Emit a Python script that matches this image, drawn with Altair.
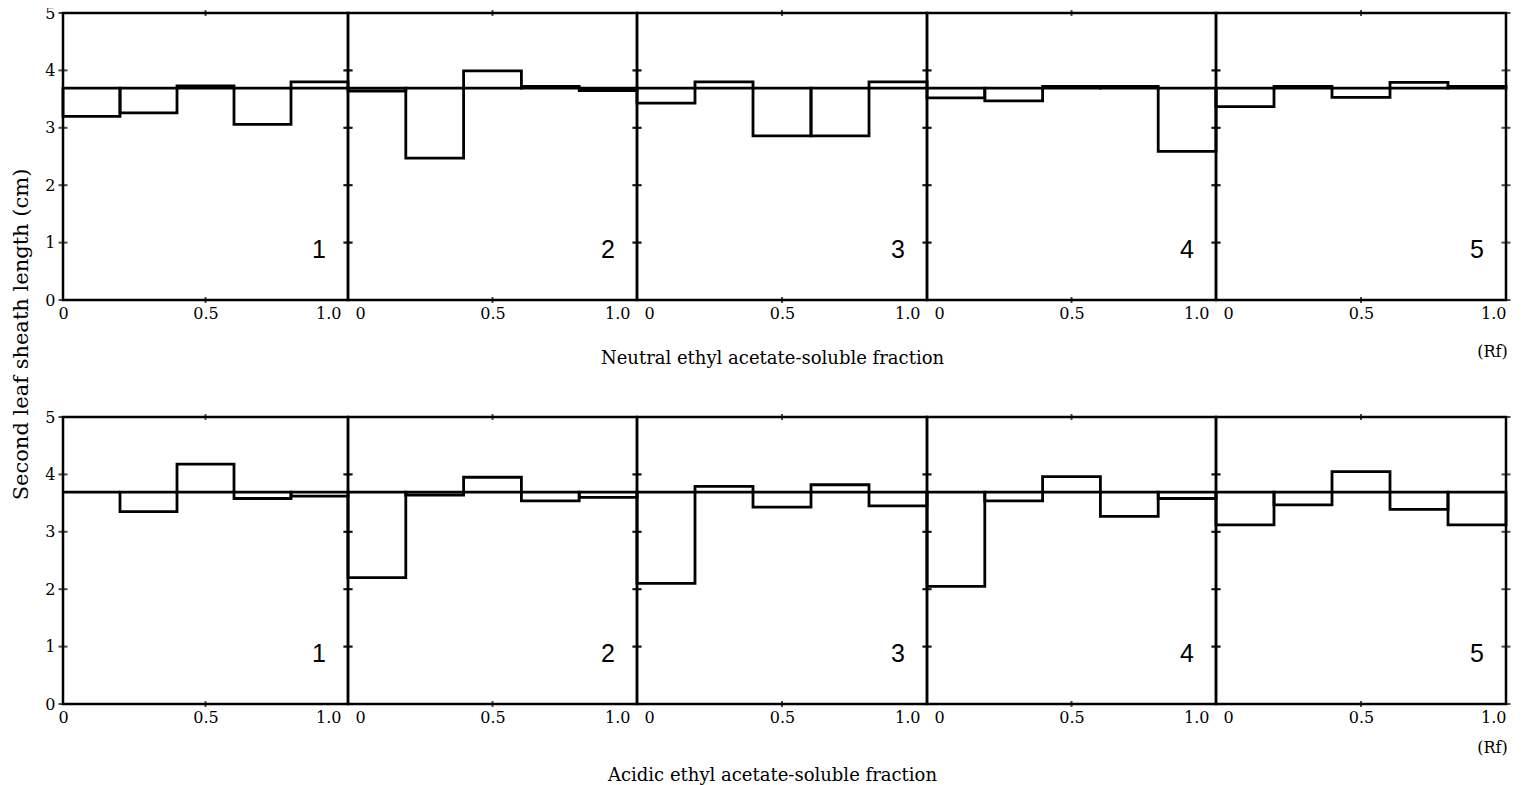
import altair as alt
import pandas as pd

# ---------------- data ----------------
rf_edges = [0.0, 0.2, 0.4, 0.6, 0.8, 1.0]
control = 3.69
panel_names = ["1", "2", "3", "4", "5"]
neutral = [
    [3.20, 3.26, 3.73, 3.06, 3.80],
    [3.64, 2.47, 3.99, 3.72, 3.65],
    [3.43, 3.80, 2.86, 2.86, 3.80],
    [3.52, 3.47, 3.72, 3.72, 2.59],
    [3.37, 3.72, 3.53, 3.79, 3.72],
]
acidic = [
    [3.69, 3.35, 4.18, 3.58, 3.62],
    [2.20, 3.64, 3.95, 3.54, 3.60],
    [2.10, 3.79, 3.43, 3.82, 3.45],
    [2.05, 3.54, 3.96, 3.27, 3.58],
    [3.12, 3.47, 4.05, 3.39, 3.12],
]
ytick_vals = [0, 1, 2, 3, 4, 5]
ytick_labels = ["0", "1", "2", "3", "4", "5"]
xtick_vals = [0, 0.5, 1.0]
xtick_labels = ["0", "0.5", "1.0"]
mid_ticks = [0.5]
row_titles = ["Neutral ethyl acetate-soluble fraction", "Acidic ethyl acetate-soluble fraction"]
unit_label = "(Rf)"
y_title = "Second leaf sheath length (cm)"

# ---------------- styling ----------------
SERIF = "DejaVu Serif"
SANS = "Liberation Sans"
widths = [285, 289, 290, 289, 290]
H = 287

xscale = alt.Scale(domain=[0, 1], nice=False, zero=False)
yscale = alt.Scale(domain=[0, 5], nice=False, zero=True)


def x_axis(i, row):
    expr = (f"datum.value == {xtick_vals[0]} ? '{xtick_labels[0]}' : "
            f"datum.value == {xtick_vals[2]} ? '{xtick_labels[2]}' : '{xtick_labels[1]}'")
    kw = dict(
        values=xtick_vals, labelExpr=expr, labelFlush=False,
        labelAlign={"condition": [
            {"test": "datum.value == 0", "value": "center" if i == 0 else "left"},
            {"test": "datum.value == 1", "value": "right"}], "value": "center"},
        labelOffset={"condition": [
            {"test": "datum.value == 0", "value": 0 if i == 0 else 7},
            {"test": "datum.value == 1", "value": 0 if i == 4 else -7}], "value": 0},
        ticks=False, tickSize=0, domain=False, grid=False, labelPadding=5,
        labelFont=SERIF, labelFontSize=16, labelColor="black", labelOverlap=False,
        titleFont=SERIF, titleFontSize=18, titleFontWeight="normal", titleColor="black",
        titleBaseline="middle", titleAlign="center",
    )
    if i == 2:
        kw.update(title=row_titles[row], titleX=135, titleY=58 if row == 0 else 71)
    elif i == 4:
        kw.update(title=unit_label, titleX=276, titleY=51 if row == 0 else 43, titleFontSize=16)
    else:
        kw.update(title=None)
    return alt.Axis(**kw)


def y_axis(i, row):
    if i != 0:
        return None
    expr = " : ".join(f"datum.value == {v} ? '{l}'" for v, l in zip(ytick_vals, ytick_labels)) + " : ''"
    kw = dict(
        values=ytick_vals, labelExpr=expr, labelFlush=False, ticks=False, tickSize=0,
        domain=False, grid=False, labelPadding=8, labelFont=SERIF, labelFontSize=16,
        labelColor="black", labelBaseline="middle",
    )
    if row == 1:
        kw.update(title=y_title, titleX=-42, titleY=-83, titleAngle=270, titleBaseline="middle",
                  titleAlign="center", titleFont=SERIF, titleFontSize=21,
                  titleFontWeight="normal", titleColor="black")
    else:
        kw.update(title=None)
    return alt.Axis(**kw)


def panel(vals, i, row):
    w = widths[i]
    xa, ya = x_axis(i, row), y_axis(i, row)
    bars_df = pd.DataFrame({"x0": rf_edges[:-1], "x1": rf_edges[1:], "v": vals,
                            "c": [control] * len(vals)})
    bars = alt.Chart(bars_df).mark_rect(fillOpacity=0, stroke="black", strokeWidth=2.8).encode(
        x=alt.X("x0:Q", scale=xscale, axis=xa),
        x2="x1:Q",
        y=alt.Y("v:Q", scale=yscale, axis=ya),
        y2="c:Q",
    )
    ctrl = alt.Chart(pd.DataFrame({"c": [control]})).mark_rule(color="black", strokeWidth=1.8).encode(
        y=alt.Y("c:Q", scale=yscale, axis=ya)
    )
    ydf = pd.DataFrame({"t": ytick_vals})
    ytl = alt.Chart(ydf).mark_tick(orient="horizontal", size=9, thickness=2, color="black").encode(
        x=alt.value(0), y=alt.Y("t:Q", scale=yscale, axis=ya))
    ytr = alt.Chart(ydf).mark_tick(orient="horizontal", size=9, thickness=2, color="black").encode(
        x=alt.value(w), y=alt.Y("t:Q", scale=yscale, axis=ya))
    mdf = pd.DataFrame({"r": mid_ticks})
    xtb = alt.Chart(mdf).mark_tick(orient="vertical", size=6, thickness=2, color="black").encode(
        x=alt.X("r:Q", scale=xscale, axis=xa), y=alt.value(H))
    xtt = alt.Chart(mdf).mark_tick(orient="vertical", size=6, thickness=2, color="black").encode(
        x=alt.X("r:Q", scale=xscale, axis=xa), y=alt.value(0))
    num = alt.Chart(pd.DataFrame({"n": [panel_names[i]]})).mark_text(
        font=SANS, fontSize=25, color="black", align="center", baseline="middle"
    ).encode(x=alt.value(w - 29), y=alt.value(H - 50), text="n:N")
    return alt.layer(bars, ctrl, ytl, ytr, xtb, xtt, num).properties(width=w, height=H)


panels = []
for r, data in enumerate([neutral, acidic]):
    panels += [panel(data[i], i, r) for i in range(5)]

chart = alt.concat(*panels, columns=5, spacing={"row": 117, "column": 0}, bounds="flush").properties(
    padding={"left": 0, "top": -5, "right": 0, "bottom": 0}
).configure(background="white").configure_view(
    stroke="black", strokeWidth=2.5
).configure_axis(grid=False, domain=False, ticks=False)

chart.save("out.html", embed_options={"renderer": "svg", "actions": False})
